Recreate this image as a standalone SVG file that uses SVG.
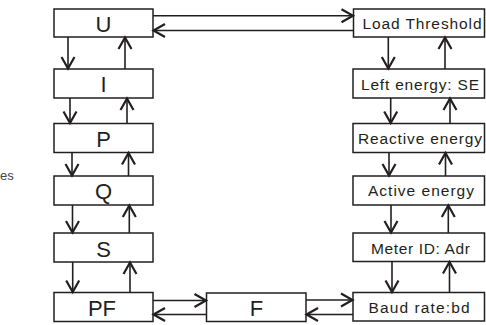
<svg xmlns="http://www.w3.org/2000/svg" width="486" height="325" viewBox="0 0 486 325">
<style>
.box{fill:#fff;stroke:#231f20;stroke-width:1.5}
.big{font-family:"Liberation Sans",Arial,sans-serif;font-size:22px;fill:#231f20;text-anchor:middle}
.sm{font-family:"Liberation Sans",Arial,sans-serif;font-size:15.5px;fill:#231f20;text-anchor:middle}
.c line{stroke:#231f20;stroke-width:1.6;marker-end:url(#ah)}
</style>
<defs>
<marker id="ah" markerUnits="userSpaceOnUse" markerWidth="20" markerHeight="20" refX="12.5" refY="7" orient="auto" viewBox="0 0 20 20" overflow="visible">
<path d="M0.5,0.5 L12,7 L0.5,13.5" fill="none" stroke="#231f20" stroke-width="2.2"/>
</marker>
</defs>
<rect width="486" height="325" fill="#fff"/>
<text x="0" y="180" font-family="Liberation Sans,Arial,sans-serif" font-size="13" fill="#444">es</text>
<g id="U"><rect class="box" x="54" y="9" width="99" height="28"/><text class="big" x="103.5" y="32">U</text></g>
<g id="I"><rect class="box" x="54" y="69" width="99" height="29"/><text class="big" x="103.5" y="92">I</text></g>
<g id="P"><rect class="box" x="54" y="123.5" width="99" height="29"/><text class="big" x="103.5" y="147">P</text></g>
<g id="Q"><rect class="box" x="54" y="176" width="99" height="29"/><text class="big" x="103.5" y="199">Q</text></g>
<g id="S"><rect class="box" x="54" y="233" width="99" height="29"/><text class="big" x="103.5" y="256.5">S</text></g>
<g id="PF"><rect class="box" x="54" y="292.5" width="99" height="29"/><text class="big" x="102" y="316">PF</text></g>
<g id="F"><rect class="box" x="206.5" y="293" width="99.5" height="28.5"/><text class="big" x="256.5" y="316">F</text></g>
<g id="LT"><rect class="box" x="353.5" y="9" width="131" height="28"/><text class="sm" x="422" y="29" textLength="119" lengthAdjust="spacing">Load Threshold</text></g>
<g id="LE"><rect class="box" x="353" y="69" width="131.5" height="29"/><text class="sm" x="420" y="90" textLength="118" lengthAdjust="spacing">Left energy: SE</text></g>
<g id="RE"><rect class="box" x="353" y="123.5" width="131.5" height="29"/><text class="sm" x="420" y="144" textLength="124" lengthAdjust="spacing">Reactive energy</text></g>
<g id="AE"><rect class="box" x="353" y="176" width="131.5" height="29"/><text class="sm" x="421" y="196" textLength="106" lengthAdjust="spacing">Active energy</text></g>
<g id="MI"><rect class="box" x="353" y="233" width="131.5" height="28.5"/><text class="sm" x="420.5" y="254.3" textLength="99" lengthAdjust="spacing">Meter ID: Adr</text></g>
<g id="BD"><rect class="box" x="353" y="292.5" width="131.5" height="28.5"/><text class="sm" x="419" y="313" textLength="101" lengthAdjust="spacing">Baud rate:bd</text></g>
<g id="connectors" class="c">
<line x1="68" y1="37" x2="68" y2="69"/>
<line x1="125" y1="69" x2="125" y2="37"/>
<line x1="70" y1="98" x2="70" y2="123.5"/>
<line x1="127" y1="123.5" x2="127" y2="98"/>
<line x1="72" y1="152.5" x2="72" y2="176"/>
<line x1="128.5" y1="176" x2="128.5" y2="152.5"/>
<line x1="72.5" y1="205" x2="72.5" y2="233"/>
<line x1="129.3" y1="233" x2="129.3" y2="205"/>
<line x1="72.7" y1="262" x2="72.7" y2="292.5"/>
<line x1="130" y1="292.5" x2="130" y2="262"/>
<line x1="388.3" y1="37" x2="388.3" y2="69"/>
<line x1="445" y1="69" x2="445" y2="37"/>
<line x1="390.7" y1="98" x2="390.7" y2="123.5"/>
<line x1="450" y1="123.5" x2="450" y2="98"/>
<line x1="389" y1="152.5" x2="389" y2="176"/>
<line x1="445.5" y1="176" x2="445.5" y2="152.5"/>
<line x1="391" y1="205" x2="391" y2="233"/>
<line x1="448.3" y1="233" x2="448.3" y2="205"/>
<line x1="392" y1="261.5" x2="392" y2="292.5"/>
<line x1="449.5" y1="292.5" x2="449.5" y2="261.5"/>
<line x1="153" y1="15.7" x2="353.5" y2="15.7"/>
<line x1="353.5" y1="30.5" x2="153" y2="30.5"/>
<line x1="153" y1="300.5" x2="206.5" y2="300.5"/>
<line x1="206.5" y1="314.5" x2="153" y2="314.5"/>
<line x1="306" y1="300" x2="353" y2="300"/>
<line x1="353" y1="314.5" x2="306" y2="314.5"/>
</g>
</svg>
